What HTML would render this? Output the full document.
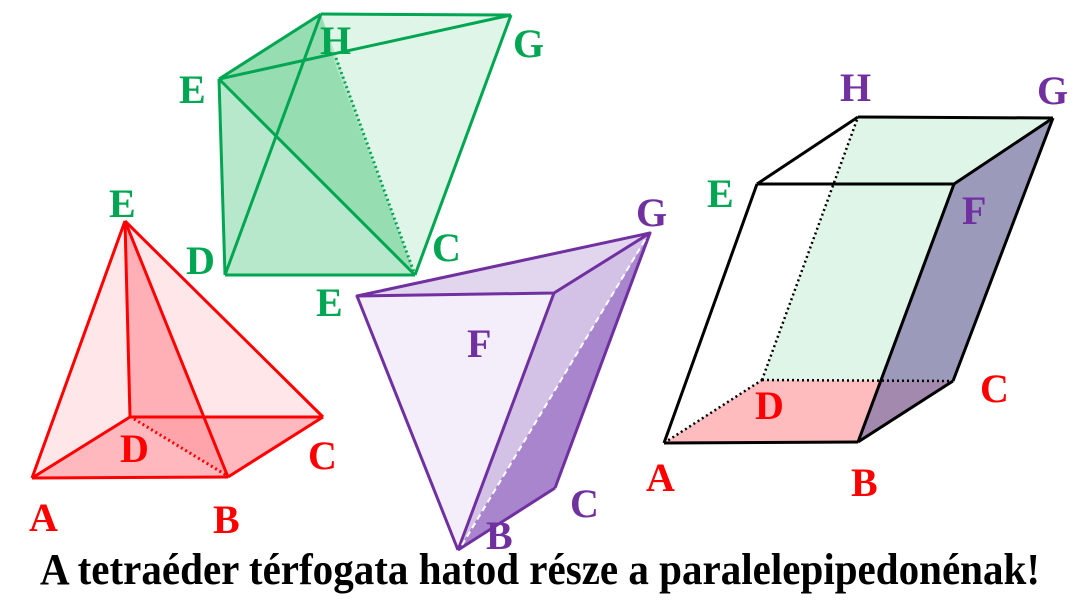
<!DOCTYPE html>
<html><head><meta charset="utf-8"><style>
html,body{margin:0;padding:0;background:#fff;}
svg{display:block;}
text{font-family:"Liberation Serif",serif;font-weight:bold;}
</style></head><body>
<svg width="1086" height="609" viewBox="0 0 1086 609" xmlns="http://www.w3.org/2000/svg">
<!-- Green solid -->
<g stroke-linejoin="round">
<polygon points="225,275 219,79 321,14 511,15 415,275" fill="#dff5e7"/>
<polygon points="225,275 219,79 321,14 415,275" fill="#b8e8cb"/>
<polygon points="219,79 321,14 336,66 415,275" fill="#8fd9ab" opacity="0.8"/>
<g stroke="#00a651" stroke-width="3" fill="none">
<line x1="225" y1="275" x2="219" y2="79"/>
<line x1="225" y1="275" x2="415" y2="275"/>
<line x1="415" y1="275" x2="511" y2="15"/>
<line x1="511" y1="15" x2="321" y2="14"/>
<line x1="321" y1="14" x2="219" y2="79"/>
<line x1="219" y1="79" x2="511" y2="15"/>
<line x1="219" y1="79" x2="415" y2="275"/>
<line x1="225" y1="275" x2="321" y2="14"/>
<line x1="336" y1="58" x2="415" y2="275" stroke-dasharray="2,3"/>
</g>
</g>
<!-- Red pyramid -->
<polygon points="32,478 125,221 323,417 228,477" fill="#ffe6e8"/>
<polygon points="32,478 130,417 323,417 228,477" fill="#ffb8bd"/>
<polygon points="125,221 130,417 228,477" fill="#ff9ea5" opacity="0.75"/>
<g stroke="#ff0000" stroke-width="3" fill="none" stroke-linejoin="round">
<line x1="32" y1="478" x2="228" y2="477"/>
<line x1="228" y1="477" x2="323" y2="417"/>
<line x1="323" y1="417" x2="130" y2="417"/>
<line x1="130" y1="417" x2="32" y2="478"/>
<line x1="125" y1="221" x2="32" y2="478"/>
<line x1="125" y1="221" x2="228" y2="477"/>
<line x1="125" y1="221" x2="323" y2="417"/>
<line x1="125" y1="221" x2="130" y2="417"/>
<line x1="134" y1="419" x2="226" y2="475" stroke-dasharray="2,3"/>
</g>
<!-- Purple tetra -->
<polygon points="357,296 650,233 554,293" fill="#e2d6ee"/>
<polygon points="357,296 554,293 458,550" fill="#f3eef9"/>
<polygon points="554,293 650,233 458,550" fill="#d3c1e6"/>
<polygon points="650,233 555,488 458,550" fill="#a985ce"/>
<g stroke="#7030a0" stroke-width="3" fill="none" stroke-linejoin="round">
<polygon points="357,296 650,233 554,293"/>
<line x1="357" y1="296" x2="458" y2="550"/>
<line x1="554" y1="293" x2="458" y2="550"/>
<line x1="650" y1="233" x2="555" y2="488"/>
<line x1="555" y1="488" x2="458" y2="550"/>
</g>
<line x1="645" y1="240" x2="462" y2="545" stroke="#fff" stroke-width="2" stroke-dasharray="6,4"/>
<!-- Parallelepiped -->
<polygon points="762,380 953,381 1053,118 858,117" fill="#dff5e7"/>
<polygon points="664,443 858,442 953,381 762,380" fill="#ffbcbf"/>
<polygon points="858,442 953,381 1053,118 954,184" fill="#7d74a8" opacity="0.7"/>
<g stroke="#000" stroke-width="3" fill="none" stroke-linejoin="round">
<line x1="664" y1="443" x2="858" y2="442"/>
<line x1="858" y1="442" x2="953" y2="381"/>
<line x1="953" y1="381" x2="1053" y2="118"/>
<line x1="1053" y1="118" x2="858" y2="117"/>
<line x1="858" y1="117" x2="757" y2="184"/>
<line x1="757" y1="184" x2="954" y2="184"/>
<line x1="954" y1="184" x2="1053" y2="118"/>
<line x1="757" y1="184" x2="664" y2="443"/>
<line x1="954" y1="184" x2="858" y2="442"/>
</g>
<g stroke="#000" stroke-width="2.5" fill="none" stroke-dasharray="2,3">
<line x1="664" y1="443" x2="762" y2="380"/>
<line x1="762" y1="380" x2="953" y2="381"/>
<line x1="762" y1="380" x2="858" y2="117"/>
</g>
<!-- Labels -->
<g font-size="40">
<g fill="#00a651">
<text x="109" y="217">E</text>
<text x="186" y="274">D</text>
<text x="320" y="54">H</text>
<text x="513" y="57">G</text>
<text x="179" y="103">E</text>
<text x="432" y="261">C</text>
<text x="316" y="316">E</text>
<text x="707" y="207">E</text>
</g>
<g fill="#7030a0">
<text x="636" y="226">G</text>
<text x="467" y="357">F</text>
<text x="570" y="517">C</text>
<text x="486" y="549">B</text>
<text x="840" y="101">H</text>
<text x="1037" y="104">G</text>
<text x="962" y="224">F</text>
</g>
<g fill="#ff0000">
<text x="120" y="462">D</text>
<text x="308" y="469">C</text>
<text x="29" y="531">A</text>
<text x="213" y="533">B</text>
<text x="755" y="419">D</text>
<text x="980" y="402">C</text>
<text x="646" y="491">A</text>
<text x="851" y="496">B</text>
</g>
</g>
<text x="40" y="584" font-size="44" textLength="1000" lengthAdjust="spacingAndGlyphs" fill="#000">A tetraéder térfogata hatod része a paralelepipedonénak!</text>
</svg>
</body></html>
